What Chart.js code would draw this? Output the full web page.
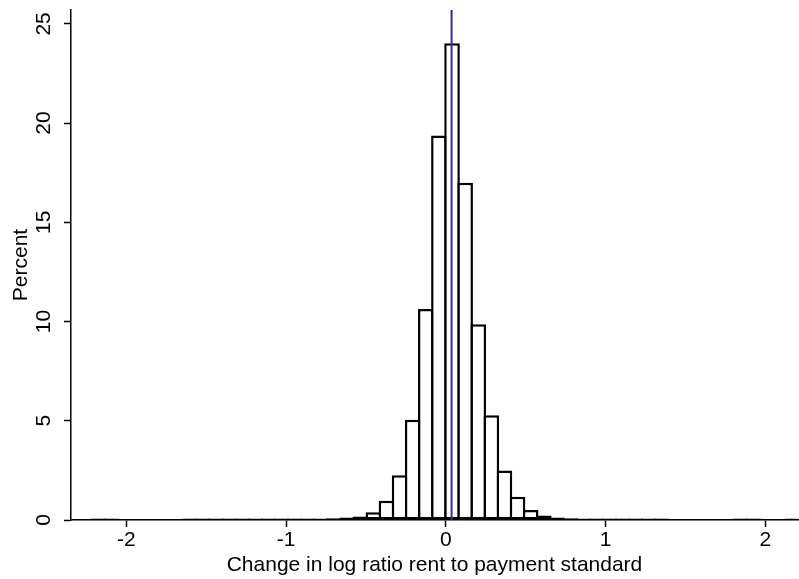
<!DOCTYPE html>
<html>
<head>
<meta charset="utf-8">
<script src="https://cdn.jsdelivr.net/npm/chart.js@4.4.1/dist/chart.umd.min.js"></script>
<style>
  html, body { margin: 0; padding: 0; background: #fff; }
  #wrap { width: 799px; height: 579px; position: relative; }
</style>
</head>
<body>
<div id="wrap"><canvas id="rent-change-hist"></canvas></div>
<script>
// histogram bins (left edge of first bin, bin width) and percent per bin
const binStart = -2.219;
const binWidth = 0.0821;
const binPercents = [
  0.08, 0.08, 0, 0, 0, 0, 0,
  0.07, 0.07, 0.07, 0.07, 0.08, 0.08, 0.08, 0.08, 0.08, 0.08, 0.08, 0.09, 0.13,
  0.18, 0.39, 0.97, 2.25, 5.05, 10.63, 19.37,
  24.03, 17.0, 9.86, 5.28, 2.5, 1.17, 0.5, 0.23, 0.12, 0.09,
  0.08, 0.08, 0.07, 0.07, 0.07, 0.07, 0.07,
  0, 0, 0, 0, 0,
  0.07, 0.07, 0, 0, 0.08
];
// mean change, drawn as a vertical line
const meanChange = 0.036;

const xTicks = [-2, -1, 0, 1, 2];
const yTicks = [0, 5, 10, 15, 20, 25];
const xMin = -2.347, xMax = 2.205;
const yMax = 25.7;

const font = { family: "'Liberation Sans', Arial, Helvetica, sans-serif", size: 21 };

const bars = binPercents.map((p, i) => ({ x: binStart + (i + 0.5) * binWidth, y: p }));

const ctx = document.getElementById('rent-change-hist').getContext('2d');
new Chart(ctx, {
  type: 'bar',
  data: {
    datasets: [{
      type: 'line',
      data: [{ x: meanChange, y: 0 }, { x: meanChange, y: yMax }],
      borderColor: '#2f2f94',
      borderWidth: 2,
      pointRadius: 0,
      fill: false
    }, {
      type: 'bar',
      data: bars,
      backgroundColor: '#ffffff',
      borderColor: '#000000',
      borderWidth: 2.5,
      borderSkipped: false,
      barPercentage: 1.19,
      categoryPercentage: 1,
      grouped: false
    }]
  },
  options: {
    responsive: true,
    maintainAspectRatio: false,
    animation: false,
    layout: { autoPadding: false, padding: { top: 10, right: 1, left: 0, bottom: 0 } },
    plugins: { legend: { display: false }, tooltip: { enabled: false } },
    scales: {
      x: {
        type: 'linear',
        min: xMin,
        max: xMax,
        offset: false,
        z: 1,
        afterBuildTicks: s => { s.ticks = xTicks.map(v => ({ value: v })); },
        afterFit: s => { s.height = 59; },
        border: { display: true, color: '#000', width: 1.5 },
        grid: { display: true, drawOnChartArea: false, drawTicks: true, tickLength: 7, tickColor: '#000', tickWidth: 1.5, offset: false },
        ticks: { color: '#000', font: font, padding: 1, maxRotation: 0, autoSkip: false, callback: v => String(v) },
        title: { display: true, text: 'Change in log ratio rent to payment standard', color: '#000', font: font, padding: { top: 0, bottom: 1 } }
      },
      y: {
        type: 'linear',
        min: 0,
        max: yMax,
        afterBuildTicks: s => { s.ticks = yTicks.map(v => ({ value: v })); },
        afterFit: s => { s.width = 71; s.paddingTop = 0; s.paddingBottom = 0; },
        border: { display: true, color: '#000', width: 1.5 },
        grid: { display: true, drawOnChartArea: false, drawTicks: true, tickLength: 7, tickColor: '#000', tickWidth: 1.5 },
        ticks: { color: '#000', font: font, padding: 8, minRotation: 90, maxRotation: 90, crossAlign: 'center', autoSkip: false, callback: v => String(v) },
        title: { display: true, text: 'Percent', color: '#000', font: font, padding: { top: 9, bottom: 0 } }
      }
    }
  }
});
</script>
</body>
</html>
